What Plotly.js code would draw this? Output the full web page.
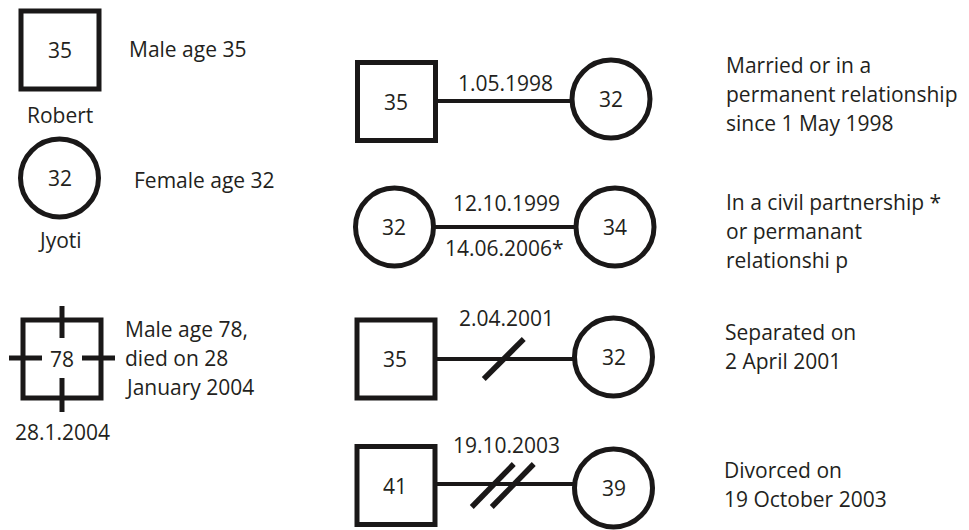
<!DOCTYPE html>
<html>
<head>
<meta charset="utf-8">
<script src="https://cdn.plot.ly/plotly-3.0.1.min.js"></script>
<style>html,body{margin:0;padding:0;background:#fff;}#chart{width:969px;height:530px;}</style>
</head>
<body>
<div id="chart"></div>
<script>
// ---- data ----
const keyAges = [35, 32, 78];
const keyNames = ["Robert", "Jyoti", "28.1.2004"];
const keyDescriptions = [["Male age 35"], ["Female age 32"], ["Male age 78,", "died on 28", "January 2004"]];
const pairLeftAges = [35, 32, 35, 41];
const pairRightAges = [32, 34, 32, 39];
const pairDatesAbove = ["1.05.1998", "12.10.1999", "2.04.2001", "19.10.2003"];
const pairDatesBelow = ["", "14.06.2006*", "", ""];
const pairBreaks = [0, 0, 1, 2];
const pairDescriptions = [
  ["Married or in a", "permanent relationship", "since 1 May 1998"],
  ["In a civil partnership *", "or permanant", "relationshi p"],
  ["Separated on", "2 April 2001"],
  ["Divorced on", "19 October 2003"]
];

// ---- layout config (positions / styles) ----
const INK = "#1a1818";
const TXT = "#231f20";
const FONT = "Open Sans, sans-serif";
const FS = 21;
const LW = 5;      // symbol outline
const RLW = 4;     // relationship line
const SLW = 5.5;   // break slashes
const H = 39;      // half size of symbol (centerline)
const keyShapes = ["square", "circle", "square"];
const keyCenters = [[60, 50], [59.5, 178], [62, 359]];
const keyNameY = [115, 240, 432];
const keyDescX = [127, 132, 123];
const keyDescY = [49, 180, 329];
const pairShapes = [["square", "circle"], ["circle", "circle"], ["square", "circle"], ["square", "circle"]];
const pairLeftC = [[396.5, 101.5], [394.5, 227], [396, 359], [396, 485.5]];
const pairRightC = [[611, 99], [615, 227], [613.5, 357], [613.5, 488]];
const pairLineY = [101, 227, 359, 484];
const pairAboveY = [83, 203, 318, 445];
const pairBelowY = [248, 248, 248, 248];
const pairDescY = [65, 202, 332, 470];
const pairDescX = [724, 724, 723, 722];
const LINE_GAP = 29;

const shapes = [];
const annotations = [];

function symbol(kind, c) {
  const [x, y] = c;
  shapes.push({
    type: kind === "square" ? "rect" : "circle",
    xref: "x", yref: "y",
    x0: x - H, x1: x + H, y0: y - H, y1: y + H,
    line: { color: INK, width: LW }, fillcolor: "rgba(0,0,0,0)"
  });
}
function seg(x0, y0, x1, y1, w) {
  shapes.push({ type: "line", xref: "x", yref: "y", x0, y0, x1, y1, line: { color: INK, width: w || LW } });
}
function text(t, x, y, anchor) {
  annotations.push({
    text: t, x, y, xref: "x", yref: "y", showarrow: false,
    xanchor: anchor || "center", yanchor: "middle",
    font: { family: FONT, size: FS, color: TXT }
  });
}

// key column
keyAges.forEach((age, i) => {
  const c = keyCenters[i];
  symbol(keyShapes[i], c);
  text(String(age), c[0], c[1]);
  text(keyNames[i], c[0], keyNameY[i]);
  keyDescriptions[i].forEach((ln, j) => text(ln, keyDescX[i], keyDescY[i] + j * LINE_GAP, "left"));
});
// deceased tick marks
(function () {
  const [x, y] = keyCenters[2];
  seg(x, y - 53, x, y - 21, LW);
  seg(x, y + 19, x, y + 53, LW);
  seg(x - 53, y - 1, x - 20, y - 1, LW);
  seg(x + 20, y - 1, x + 53, y - 1, LW);
})();

// relationship rows
pairLeftAges.forEach((age, i) => {
  const L = pairLeftC[i], R = pairRightC[i];
  symbol(pairShapes[i][0], L);
  symbol(pairShapes[i][1], R);
  const y = pairLineY[i];
  seg(L[0] + H + 1, y, R[0] - H - 1, y, RLW);
  text(String(age), L[0] - 1, L[1]);
  text(String(pairRightAges[i]), R[0], R[1]);
  text(pairDatesAbove[i], (L[0] + R[0]) / 2 + 2, pairAboveY[i]);
  if (pairDatesBelow[i]) text(pairDatesBelow[i], (L[0] + R[0]) / 2, pairBelowY[i]);
  const mid = (L[0] + R[0]) / 2;
  if (pairBreaks[i] === 1) {
    seg(mid - 21, y + 20, mid + 19, y - 20, SLW);
  } else if (pairBreaks[i] === 2) {
    seg(mid - 33, y + 23, mid + 9, y - 20, SLW);
    seg(mid - 13, y + 23, mid + 29, y - 20, SLW);
  }
  pairDescriptions[i].forEach((ln, j) => text(ln, pairDescX[i], pairDescY[i] + j * LINE_GAP, "left"));
});

const layout = {
  width: 969, height: 530,
  margin: { l: 0, r: 0, t: 0, b: 0 },
  paper_bgcolor: "#ffffff", plot_bgcolor: "#ffffff",
  xaxis: { range: [0, 969], visible: false, fixedrange: true },
  yaxis: { range: [530, 0], visible: false, fixedrange: true },
  showlegend: false,
  shapes, annotations
};
Plotly.newPlot("chart", [{ x: [], y: [], type: "scatter", mode: "markers" }], layout, { staticPlot: true, displayModeBar: false });
</script>
</body>
</html>
